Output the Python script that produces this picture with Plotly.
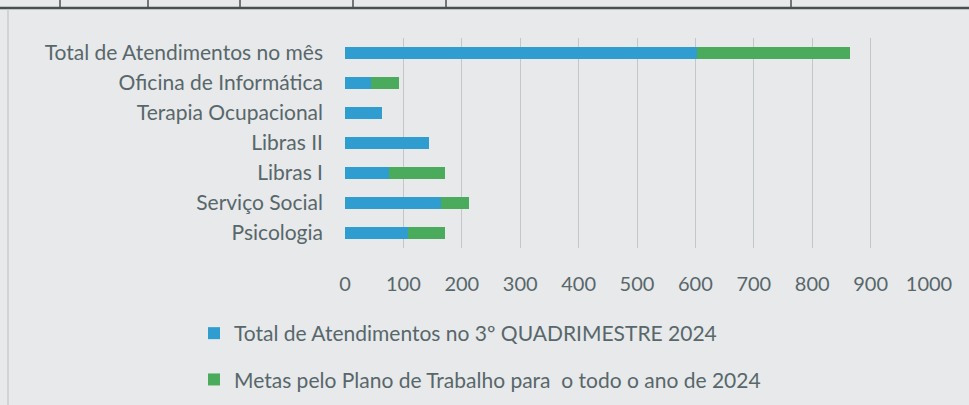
import plotly.graph_objects as go

categories = ["Psicologia", "Serviço Social", "Libras I", "Libras II",
              "Terapia Ocupacional", "Oficina de Informática", "Total de Atendimentos no mês"]
atendimentos = [108, 164, 75, 143, 64, 45, 603]
metas = [63, 49, 96, 0, 0, 48, 261]
x_ticks = [0, 100, 200, 300, 400, 500, 600, 700, 800, 900, 1000]

name_a = "Total de Atendimentos no 3º QUADRIMESTRE 2024"
name_b = "Metas pelo Plano de Trabalho para  o todo o ano de 2024"

BG = "#e7e9ea"
TXT = "#58676a"
FONT = "Lato"

L, R, T, B = 345, 40, 38, 157
PW = 969 - L - R
PH = 405 - T - B


def px_x(px):
    return (px - L) / PW


def px_y(py):
    return (405 - B - py) / PH


fig = go.Figure()
fig.add_trace(go.Bar(y=categories, x=atendimentos, orientation="h", name=name_a,
                     marker=dict(color="#2f9dd0", line=dict(width=0)), legendgroup="a"))
fig.add_trace(go.Bar(y=categories, x=metas, orientation="h", name=name_b,
                     marker=dict(color="#4bab5c", line=dict(width=0)), legendgroup="b"))

fig.update_layout(
    width=969, height=405,
    barmode="stack", bargap=0.57,
    paper_bgcolor=BG, plot_bgcolor=BG,
    margin=dict(l=L, r=R, t=T, b=B, autoexpand=False),
    font=dict(family=FONT, size=20, color=TXT),
    showlegend=True,
    legend=dict(x=px_x(194), xanchor="left", y=px_y(313), yanchor="top",
                bgcolor="rgba(0,0,0,0)", traceorder="grouped",
                tracegroupgap=16, font=dict(size=21, color=TXT),
                itemwidth=30),
    xaxis=dict(range=[0, 1000], tickvals=x_ticks, showgrid=True, automargin=False,
               gridcolor="#c4c7c8", gridwidth=1, zeroline=False, showline=False,
               ticklabelstandoff=22, tickfont=dict(size=20, color=TXT), fixedrange=True),
    yaxis=dict(showgrid=False, zeroline=False, showline=False, automargin=False,
               ticklabelstandoff=21, tickfont=dict(size=21, color=TXT), fixedrange=True),
    shapes=[
        dict(type="line", xref="paper", yref="paper", x0=px_x(0), x1=px_x(969),
             y0=px_y(8), y1=px_y(8), line=dict(color="#4a4f52", width=2.5)),
        dict(type="line", xref="paper", yref="paper", x0=px_x(8), x1=px_x(8),
             y0=px_y(9), y1=px_y(405), line=dict(color="#c9cdd0", width=1.5)),
    ] + [
        dict(type="line", xref="paper", yref="paper", x0=px_x(p), x1=px_x(p),
             y0=px_y(0), y1=px_y(8), line=dict(color="#4a4f52", width=1.5))
        for p in [60, 148, 240, 353, 446, 791]
    ],
)

fig.write_html("out.html", config={"displayModeBar": False},
               post_script="document.body.style.margin='0';")
